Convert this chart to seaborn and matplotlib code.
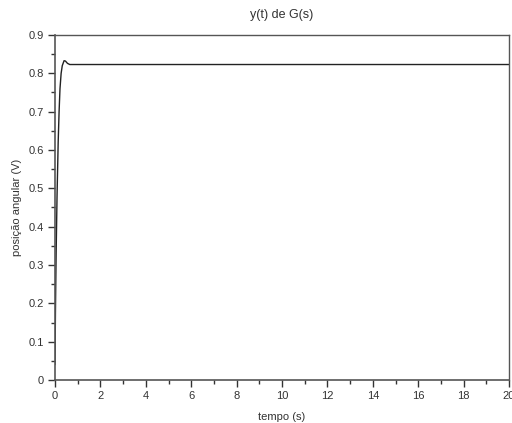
import matplotlib
matplotlib.use("Agg")
import matplotlib.pyplot as plt
import seaborn as sns
import pandas as pd
import numpy as np
from matplotlib.ticker import MultipleLocator

tempo = [0.0, 0.02, 0.05, 0.09, 0.14, 0.18, 0.22, 0.27, 0.32, 0.40, 0.46, 0.55, 0.65, 0.80, 1.0, 20.0]
posicao = [0.04, 0.18, 0.33, 0.48, 0.62, 0.70, 0.76, 0.80, 0.82, 0.833, 0.832, 0.826, 0.823, 0.823, 0.823, 0.823]

xticks = [0, 2, 4, 6, 8, 10, 12, 14, 16, 18, 20]
yticks = [0, 0.1, 0.2, 0.3, 0.4, 0.5, 0.6, 0.7, 0.8, 0.9]
ytick_labels = ["0", "0.1", "0.2", "0.3", "0.4", "0.5", "0.6", "0.7", "0.8", "0.9"]

sns.set_style("white")
plt.rcParams['font.family'] = ['Liberation Sans', 'DejaVu Sans']

df = pd.DataFrame({"tempo": tempo, "posicao": posicao})

fig = plt.figure(figsize=(5.12, 4.23), dpi=100)
ax = fig.add_axes([55/512, 43/423, 454/512, 345/423])
sns.lineplot(data=df, x="tempo", y="posicao", ax=ax, color="#222222", linewidth=1.0)

ax.set_xlim(0, 20)
ax.set_ylim(0, 0.9)
ax.set_xticks(xticks)
ax.set_xticklabels([str(v) for v in xticks])
ax.set_yticks(yticks)
ax.set_yticklabels(ytick_labels)
ax.xaxis.set_minor_locator(MultipleLocator(1))
ax.yaxis.set_minor_locator(MultipleLocator(0.05))
ax.tick_params(which="major", direction="out", length=5, width=1, color="#333333",
               labelsize=8, labelcolor="#333333", left=True, bottom=True, pad=3)
ax.tick_params(which="minor", direction="out", length=3, width=1, color="#333333",
               left=True, bottom=True)

for s in ["left", "bottom"]:
    ax.spines[s].set_color("#555555")
    ax.spines[s].set_linewidth(1.2)
for s in ["top", "right"]:
    ax.spines[s].set_color("#555555")
    ax.spines[s].set_linewidth(1.0)

ax.set_title("y(t) de G(s)", fontsize=9, color="#333333", pad=12)
ax.set_xlabel("tempo (s)", fontsize=8, color="#333333", labelpad=8)
ax.set_ylabel("posição angular (V)", fontsize=8, color="#333333", labelpad=5)

fig.savefig("out.png", dpi=100)
